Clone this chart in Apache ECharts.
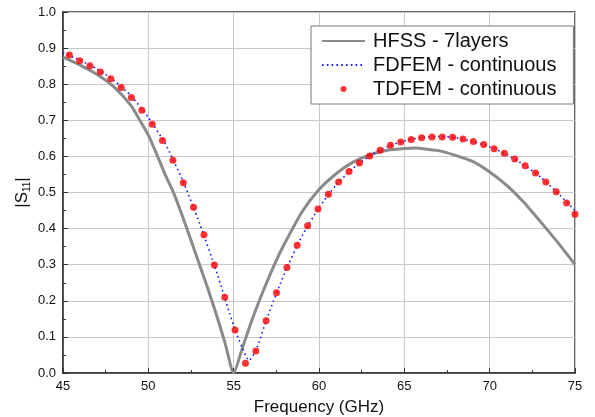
<!DOCTYPE html>
<html>
<head>
<meta charset="utf-8">
<script src="https://cdn.jsdelivr.net/npm/echarts@6/dist/echarts.min.js"></script>
<style>
  html, body { margin: 0; padding: 0; background: #fff; }
  #chart { width: 595px; height: 417px; }
</style>
</head>
<body>
<div id="chart"></div>
<script>
// HFSS - 7layers (solid grey curve)
const freqHfss = [45, 46, 47, 48, 49, 49.5, 50, 50.5, 51, 51.5, 52, 52.5, 53, 53.5, 54, 54.5, 55,
  55.5, 56, 56.5, 57, 57.5, 58, 59, 60, 61, 62, 63, 64, 65, 65.7, 66, 67, 68, 69, 70, 71, 72, 73, 74, 75];
const hfss = [0.875, 0.853, 0.827, 0.792, 0.740, 0.700, 0.659, 0.605, 0.548, 0.497, 0.434, 0.368, 0.300, 0.232, 0.160, 0.082, 0.0,
  0.068, 0.137, 0.200, 0.258, 0.312, 0.360, 0.446, 0.508, 0.552, 0.584, 0.605, 0.617, 0.622, 0.623, 0.622, 0.616, 0.603, 0.586, 0.557, 0.520, 0.473, 0.418, 0.361, 0.300];

// FDFEM - continuous (blue dotted)
const freqFd = [45, 46, 47, 48, 49, 50, 51, 52, 53, 54, 55, 55.5, 55.9, 56.3, 57, 58, 59, 60, 61, 62, 63,
  64, 65, 66, 67, 68, 69, 70, 71, 72, 73, 74, 75];
const fdfem = [0.888, 0.866, 0.842, 0.810, 0.767, 0.708, 0.634, 0.535, 0.415, 0.280, 0.131, 0.070, 0.035, 0.062, 0.158, 0.278, 0.379, 0.458, 0.521, 0.567, 0.602,
  0.627, 0.643, 0.652, 0.655, 0.652, 0.641, 0.627, 0.605, 0.577, 0.542, 0.498, 0.450];

// TDFEM - continuous (red dots)
const freqTd = [45.37, 45.98, 46.58, 47.19, 47.80, 48.41, 49.01, 49.62, 50.23, 50.83,
  51.44, 52.05, 52.65, 53.26, 53.87, 54.48, 55.08, 55.69, 56.30, 56.90,
  57.51, 58.12, 58.72, 59.33, 59.94, 60.55, 61.15, 61.76, 62.37, 62.97,
  63.58, 64.19, 64.79, 65.40, 66.01, 66.62, 67.22, 67.83, 68.44, 69.04,
  69.65, 70.26, 70.86, 71.47, 72.08, 72.69, 73.29, 73.90, 74.51, 75.0];
const tdfem = [0.881, 0.865, 0.851, 0.834, 0.815, 0.791, 0.763, 0.728, 0.689, 0.644,
  0.589, 0.527, 0.459, 0.383, 0.299, 0.210, 0.119, 0.027, 0.061, 0.145,
  0.222, 0.292, 0.354, 0.408, 0.454, 0.495, 0.529, 0.558, 0.582, 0.601,
  0.617, 0.631, 0.640, 0.647, 0.652, 0.654, 0.654, 0.653, 0.648, 0.641,
  0.633, 0.621, 0.609, 0.593, 0.574, 0.554, 0.529, 0.502, 0.471, 0.440];

function pairs(xs, ys) {
  return xs.map((x, i) => [x, ys[i]]);
}

const axisColor = '#333';
const textColor = '#111';

let myChart = echarts.init(document.getElementById('chart'));
let option = {
  animation: false,
  textStyle: { fontFamily: 'Liberation Sans, Arial, sans-serif' },
  grid: {
    left: 63, right: 20, top: 12, bottom: 44,
    outerBoundsMode: 'none', // keep the plot box fixed, don't shrink for the axis name
    show: true,
    borderColor: axisColor,
    borderWidth: 1.5
  },
  legend: {
    orient: 'vertical',
    left: 311,
    top: 26,
    padding: [5, 17, 5, 10],
    itemGap: 4,
    itemWidth: 43,
    itemHeight: 6,
    backgroundColor: '#fff',
    borderColor: '#777',
    borderWidth: 1,
    textStyle: { fontSize: 20, color: textColor, padding: [0, 0, 0, 3] },
    // line items: hide the marker dot, keep only the line sample
    data: [
      { name: 'HFSS - 7layers', itemStyle: { opacity: 0 } },
      { name: 'FDFEM - continuous', itemStyle: { opacity: 0 } },
      { name: 'TDFEM - continuous' }
    ]
  },
  xAxis: {
    type: 'value',
    min: 45,
    max: 75,
    interval: 5,
    name: 'Frequency (GHz)',
    nameLocation: 'middle',
    nameGap: 26,
    nameTextStyle: { fontSize: 17, color: textColor },
    axisLine: { lineStyle: { color: axisColor, width: 1.5 } },
    axisTick: { inside: true, length: 5, lineStyle: { color: axisColor } },
    minorTick: { show: true, splitNumber: 2, length: 3, lineStyle: { color: axisColor } },
    splitLine: { show: true, lineStyle: { color: '#c8c8c8' } },
    axisLabel: { fontSize: 13, color: textColor, margin: 7 }
  },
  yAxis: {
    type: 'value',
    min: 0,
    max: 1,
    interval: 0.1,
    name: '|S{sub|11}|',
    nameLocation: 'middle',
    nameGap: 31,
    nameMoveOverlap: false,
    nameTextStyle: {
      fontSize: 17, color: textColor, lineHeight: 20,
      rich: { sub: { fontSize: 10, verticalAlign: 'bottom', lineHeight: 10, color: textColor } }
    },
    axisLine: { lineStyle: { color: axisColor, width: 1.5 } },
    axisTick: { inside: true, length: 5, lineStyle: { color: axisColor } },
    minorTick: { show: true, splitNumber: 2, length: 3, lineStyle: { color: axisColor } },
    splitLine: { show: true, lineStyle: { color: '#c8c8c8' } },
    axisLabel: {
      fontSize: 13, color: textColor, margin: 7,
      formatter: v => v.toFixed(1)
    }
  },
  series: [
    {
      name: 'HFSS - 7layers',
      type: 'line',
      symbol: 'none',
      smooth: 0.2,
      z: 2,
      lineStyle: { color: '#8a8a8a', width: 3 },
      itemStyle: { color: '#8a8a8a' },
      data: pairs(freqHfss, hfss)
    },
    {
      name: 'FDFEM - continuous',
      type: 'line',
      symbol: 'none',
      smooth: 0.2,
      z: 3,
      lineStyle: { color: '#1a1aff', width: 1.6, type: [1.6, 3.2] },
      itemStyle: { color: '#1a1aff' },
      data: pairs(freqFd, fdfem)
    },
    {
      name: 'TDFEM - continuous',
      type: 'scatter',
      symbolSize: 7,
      z: 4,
      itemStyle: { color: '#ff0000' },
      data: pairs(freqTd, tdfem)
    }
  ]
};
myChart.setOption(option);
</script>
</body>
</html>
